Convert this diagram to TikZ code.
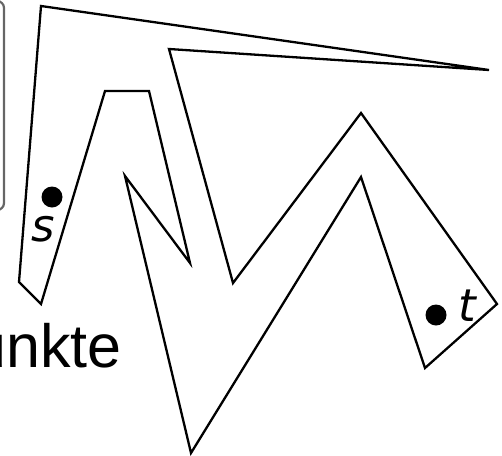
\documentclass[tikz,border=0pt]{standalone}
\usepackage{fontspec}
\setmainfont{Liberation Sans}
\newfontfamily\lblfont{DejaVu Sans}
\begin{document}
\begin{tikzpicture}[x=1pt,y=-1pt,
  poly/.style={line width=2.3pt,line join=miter},
  frame/.style={draw=black!60,line width=2.2pt,rounded corners=7pt},
  dotmark/.style={circle,fill=black,inner sep=0pt,minimum size=21pt},
  lbl/.style={font=\lblfont\itshape\fontsize{45}{45}\selectfont,inner sep=0pt,anchor=base}]
\useasboundingbox (0,0) rectangle (502,455);
\begin{scope}
\clip (0,0) rectangle (502,455);
\draw[frame] (-60,1) rectangle (4,210);
\node[font=\fontsize{61}{61}\selectfont,inner sep=0pt,anchor=base east] (txt) at (122,367) {unkte};
\end{scope}
\draw[poly] (41,6) -- (489,70) -- (169,49) -- (233,283) -- (361,113) -- (497,304)
  -- (425,368) -- (361,177) -- (191,453) -- (125,176) -- (190,263) -- (149,91)
  -- (105,91) -- (41,304) -- (19,282) -- cycle;
\node[dotmark] (s) at (52,197) {};
\node[dotmark] (t) at (436,315) {};
\node[lbl] (sl) at (43,241) {s};
\node[lbl] (tl) at (467,321) {t};
\end{tikzpicture}
\end{document}
